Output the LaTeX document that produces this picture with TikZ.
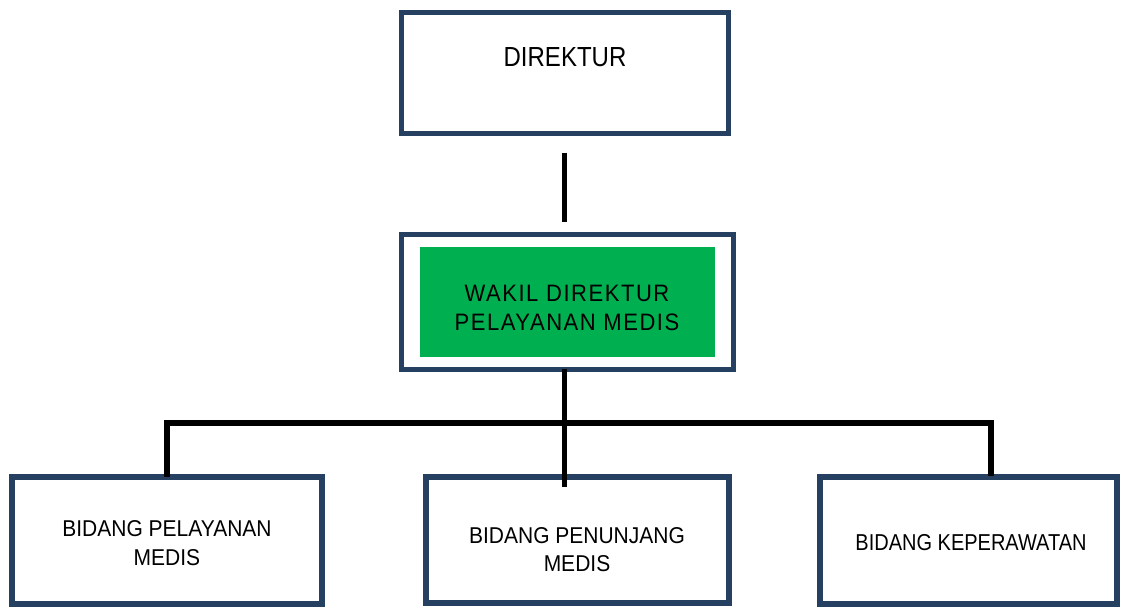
\documentclass[tikz,border=0pt]{standalone}
\usepackage{fontspec}
\setmainfont{Liberation Sans}
\newfontfamily\widefont[LetterSpace=7]{Liberation Sans}
\definecolor{borderblue}{RGB}{38,64,97}
\definecolor{boxgreen}{RGB}{0,176,80}
\newcommand{\tallx}[2]{\scalebox{1}[#1]{#2}}
\begin{document}
\begin{tikzpicture}[x=1pt,y=-1pt,
  box/.style={draw=borderblue,line width=5.5pt,fill=white,inner sep=0pt,outer sep=0pt},
  greenbox/.style={fill=boxgreen,draw=none,inner sep=0pt,outer sep=0pt},
  conn/.style={draw=black,line width=5.8pt,line join=miter},
  txt/.style={anchor=base,inner sep=0pt,outer sep=0pt,text=black}
]
\useasboundingbox (0,0) rectangle (1121,608);
\fill[white] (0,0) rectangle (1121,608);

% boxes
\node[box,line width=5pt,minimum width=327pt,minimum height=121pt] (dir) at (565,73) {};
\node[box,line width=5pt,minimum width=332pt,minimum height=135pt] (wakil) at (567.5,302) {};
\node[greenbox,minimum width=295pt,minimum height=110pt] (wakilin) at (567.5,302) {};
\node[box,minimum width=310pt,minimum height=127pt] (bpm) at (167,540.5) {};
\node[box,minimum width=303pt,minimum height=126pt] (bpn) at (577.5,540) {};
\node[box,minimum width=297pt,minimum height=127pt] (bkp) at (968.5,540.5) {};

% texts
\node[txt,font=\fontsize{24}{28}\selectfont] (tdir) at (565,66.7) {\tallx{1.15}{DIREKTUR}};
\node[txt,font=\widefont\fontsize{22}{26.2}\selectfont] (twakil) at (567,301.7)
  {\tallx{1.08}{\begin{tabular}[t]{@{}c@{}}WAKIL DIREKTUR\\PELAYANAN MEDIS\end{tabular}}};
\node[txt,font=\fontsize{21}{26.6}\selectfont] (tbpm) at (167,536.7)
  {\tallx{1.09}{\begin{tabular}[t]{@{}c@{}}BIDANG PELAYANAN\\MEDIS\end{tabular}}};
\node[txt,font=\fontsize{21}{26.1}\selectfont] (tbpn) at (577,543.3)
  {\tallx{1.09}{\begin{tabular}[t]{@{}c@{}}BIDANG PENUNJANG\\MEDIS\end{tabular}}};
\node[txt,font=\fontsize{20}{28}\selectfont] (tbkp) at (971,550.7) {\tallx{1.15}{BIDANG KEPERAWATAN}};

% connectors
\coordinate (c1) at (564.5,152.7);
\coordinate (c2) at (564.5,221.7);
\draw[conn] (c1) -- (c2);

\coordinate (w1) at (564.5,369);
\coordinate (w2) at (564.5,487);
\coordinate (hl) at (167,423);
\coordinate (hr) at (991,423);
\coordinate (lt) at (167,477);
\coordinate (rt) at (991,476);
\draw[conn] (lt) -- (hl) -- (hr) -- (rt);
\draw[conn] (w1) -- (w2);
\end{tikzpicture}
\end{document}
